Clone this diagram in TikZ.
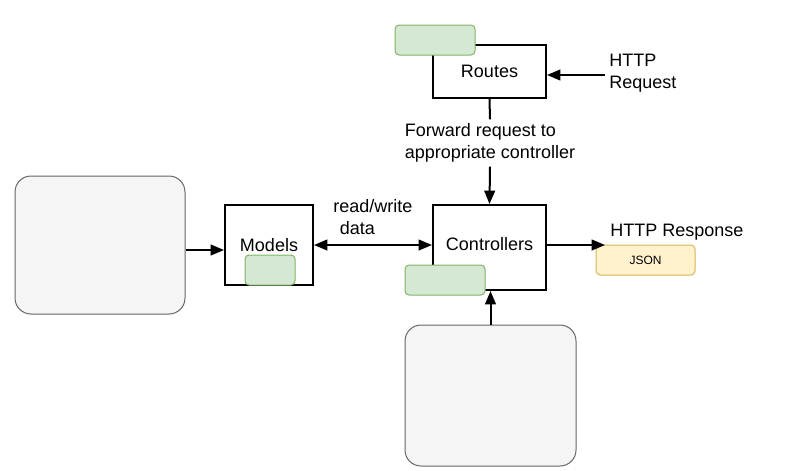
\documentclass[tikz,border=0pt]{standalone}
\usepackage{fontspec}
\setmainfont{Liberation Sans}
\usetikzlibrary{arrows.meta,calc}
\definecolor{greenfill}{HTML}{D5E8D4}
\definecolor{greenline}{HTML}{82B366}
\definecolor{grayfill}{HTML}{F5F5F5}
\definecolor{grayline}{HTML}{666666}
\definecolor{yellowfill}{HTML}{FFF2CC}
\definecolor{yellowline}{HTML}{D6B656}
\tikzset{
  box/.style={draw=black, line width=1.5pt, fill=white, font=\fontsize{13.5}{16}\selectfont, inner sep=0pt},
  greenbox/.style={draw=greenline, fill=greenfill, line width=0.75pt, rounded corners=3pt, inner sep=0pt},
  graybox/.style={draw=grayline, fill=grayfill, line width=0.75pt, rounded corners=12pt, inner sep=0pt},
  jsonbox/.style={draw=yellowline, fill=yellowfill, line width=0.75pt, rounded corners=3pt, inner sep=0pt, font=\fontsize{9}{11}\selectfont},
  lbl/.style={font=\fontsize{13.5}{16.5}\selectfont, inner sep=0pt},
  arr/.style={line width=1.5pt, -{Triangle[length=10pt,width=8pt]}},
  darr/.style={line width=1.5pt, {Triangle[length=10pt,width=8pt]}-{Triangle[length=10pt,width=8pt]}},
  ln/.style={line width=1.5pt}
}
\begin{document}
\begin{tikzpicture}[x=0.75pt,y=-0.75pt]
\useasboundingbox (0,0) rectangle (810,471);
% boxes
\node[box, minimum width=84.75pt, minimum height=39.75pt] (routes) at (489.5,71.5) {Routes};
\node[greenbox, minimum width=60pt, minimum height=22.5pt] (routesg) at (435,40) {};
\node[box, minimum width=84.75pt, minimum height=63.75pt, text depth=6pt] (ctrl) at (489.5,247.5) {Controllers};
\node[box, minimum width=66pt, minimum height=60pt] (models) at (269,245) {Models};
\node[greenbox, minimum width=37.5pt, minimum height=22.5pt] (modelsg) at (270,270) {};
\node[greenbox, minimum width=60pt, minimum height=22.5pt] (ctrlg) at (445,280) {};
\node[graybox, minimum width=127.5pt, minimum height=103.5pt] (leftbox) at (100,245) {};
\node[graybox, minimum width=128.25pt, minimum height=105.75pt] (botbox) at (490.5,395.5) {};
\node[jsonbox, minimum width=74.25pt, minimum height=22.5pt] (json) at (645.5,260) {JSON};
% labels
\node[lbl, anchor=west, align=left] (req) at (609,73) {HTTP\\Request};
\node[lbl, anchor=west] (resp) at (610,232) {HTTP Response};
\node[lbl, align=left] (fwd) at (490,143) {Forward request to\\appropriate controller};
\node[lbl, anchor=west, align=left] (rw) at (333,217) {read/write\\\hspace{5pt}data};
% coordinates
\coordinate (reqend) at (605,75);
\coordinate (respend) at (605,245);
% connectors
\draw[arr] (reqend) -- (reqend -| routes.east);
\draw[ln] (routes.south) -- ($(fwd.north)+(0,-4)$);
\draw[arr] ($(fwd.south)+(0,4)$) -- (ctrl.north);
\draw[arr] ($(leftbox.east)+(0,5)$) -- ($(models.west)+(0,5)$);
\draw[darr] (models.east) -- (models.east -| ctrl.west);
\draw[arr] (ctrl.east |- respend) -- (respend);
\draw[arr] (botbox.north) -- (botbox.north |- ctrl.south);
\end{tikzpicture}
\end{document}
